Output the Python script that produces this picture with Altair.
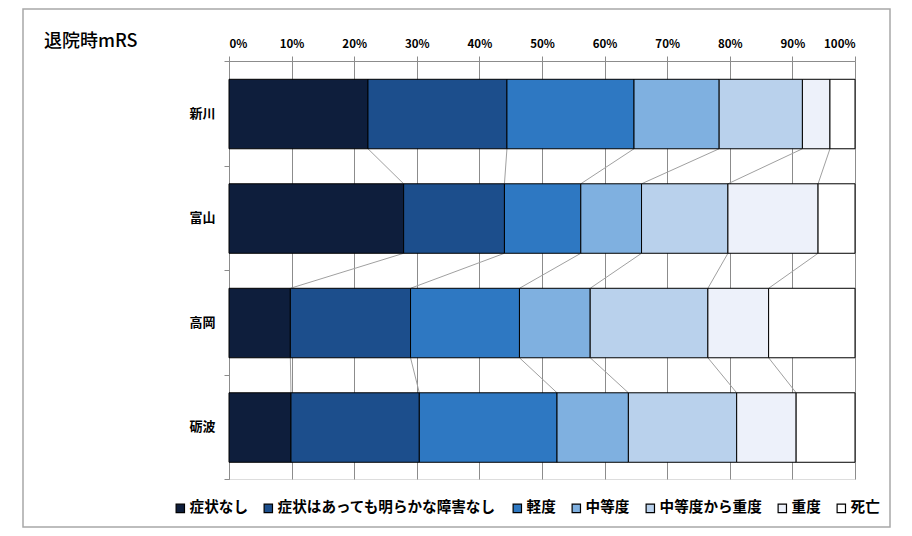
import altair as alt
import pandas as pd

categories = ["新川", "富山", "高岡", "砺波"]
levels = ["症状なし", "症状はあっても明らかな障害なし", "軽度", "中等度",
          "中等度から重度", "重度", "死亡"]
colors = ["#0e1e3c", "#1c4e8c", "#2e78c2", "#7fb0e0", "#b9d1ec", "#edf1fa", "#ffffff"]

share_shinkawa = [22.2, 22.2, 20.3, 13.6, 13.3, 4.4, 4.0]
share_toyama = [27.9, 16.1, 12.2, 9.7, 13.8, 14.4, 5.9]
share_takaoka = [9.8, 19.2, 17.4, 11.3, 18.8, 9.7, 13.8]
share_tonami = [9.9, 20.5, 22.0, 11.4, 17.3, 9.5, 9.4]
shares = [share_shinkawa, share_toyama, share_takaoka, share_tonami]

x_ticks = list(range(0, 101, 10))

FONT = "Noto Sans CJK JP"
BAR_TOP = 0.175
BAR_BOT = 0.84

rows = []
cums = []
for i, (cat, vals) in enumerate(zip(categories, shares)):
    start = 0.0
    cum = []
    for lev, v in zip(levels, vals):
        rows.append({"cat": cat, "level": lev, "start": start, "end": start + v,
                     "y0": i + BAR_TOP, "y1": i + BAR_BOT})
        start += v
        cum.append(start)
    cums.append(cum)
bars_df = pd.DataFrame(rows)

line_rows = []
for i in range(len(categories) - 1):
    for k in range(len(levels) - 1):
        line_rows.append({"xa": cums[i][k], "xb": cums[i + 1][k],
                          "ya": i + BAR_BOT, "yb": i + 1 + BAR_TOP})
lines_df = pd.DataFrame(line_rows)

label_expr = "[" + ",".join("'%s'" % c for c in categories) + "][floor(datum.value)]"

yscale = alt.Scale(domain=[0, 4], reverse=True, nice=False, zero=False)
xscale = alt.Scale(domain=[0, 100], nice=False)

bars = alt.Chart(bars_df).mark_bar(stroke="#000000", strokeWidth=1).encode(
    x=alt.X("start:Q", scale=xscale,
            axis=alt.Axis(orient="top", values=x_ticks, labelExpr="datum.value + '%'",
                          title=None, grid=True, gridColor="#8c8c8c", gridWidth=1,
                          domainColor="#8c8c8c", tickColor="#8c8c8c", tickSize=5,
                          labelPadding=7, labelFont=FONT, labelFontSize=11.5,
                          labelFontWeight="bold", labelColor="#000000")),
    x2="end:Q",
    y=alt.Y("y0:Q", scale=yscale,
            axis=alt.Axis(values=[0, 0.5, 1, 1.5, 2, 2.5, 3, 3.5, 4],
                          labelExpr="datum.value % 1 == 0 ? '' : " + label_expr,
                          title=None, grid=False, domainColor="#8c8c8c",
                          tickColor="#8c8c8c", tickSize=5,
                          tickOpacity={"condition": {"test": "datum.value % 1 == 0", "value": 1}, "value": 0},
                          labelPadding=9, labelFont=FONT, labelFontSize=13,
                          labelFontWeight="bold", labelColor="#000000")),
    y2="y1:Q",
    fill=alt.Fill("level:N", sort=levels,
                  scale=alt.Scale(domain=levels, range=colors),
                  legend=alt.Legend(orient="none", direction="horizontal",
                                    legendX=-56, legendY=440, title=None,
                                    symbolType="square", symbolSize=70,
                                    symbolStrokeColor="#000000", symbolStrokeWidth=1.2,
                                    labelFont=FONT, labelFontSize=14.6, labelFontWeight="bold",
                                    labelColor="#000000", columnPadding=13, labelOffset=2,
                                    labelLimit=0)),
)

links = alt.Chart(lines_df).mark_rule(color="#a0a0a0", strokeWidth=1).encode(
    x=alt.X("xa:Q", scale=xscale),
    x2="xb:Q",
    y=alt.Y("ya:Q", scale=yscale),
    y2="yb:Q",
)

frame = alt.Chart(pd.DataFrame({"a": [0]})).mark_rect(
    fill=None, stroke="#a8a8a8", strokeWidth=1.5, clip=False
).encode(x=alt.value(-206), x2=alt.value(661), y=alt.value(-52), y2=alt.value(466))

chart = alt.layer(frame, links, bars).properties(
    width=626, height=418,
    padding={"left": 221, "top": 53, "right": 49, "bottom": 49},
    autosize=alt.AutoSizeParams(type="none"),
    title=alt.TitleParams(text="退院時mRS", anchor="start", frame="group", dx=-185, dy=47,
                          font=FONT, fontSize=18, fontWeight=500, color="#000000"),
).configure_view(stroke=None).configure(background="#ffffff")

chart.save("out.html", embed_options={"renderer": "svg", "actions": False})
